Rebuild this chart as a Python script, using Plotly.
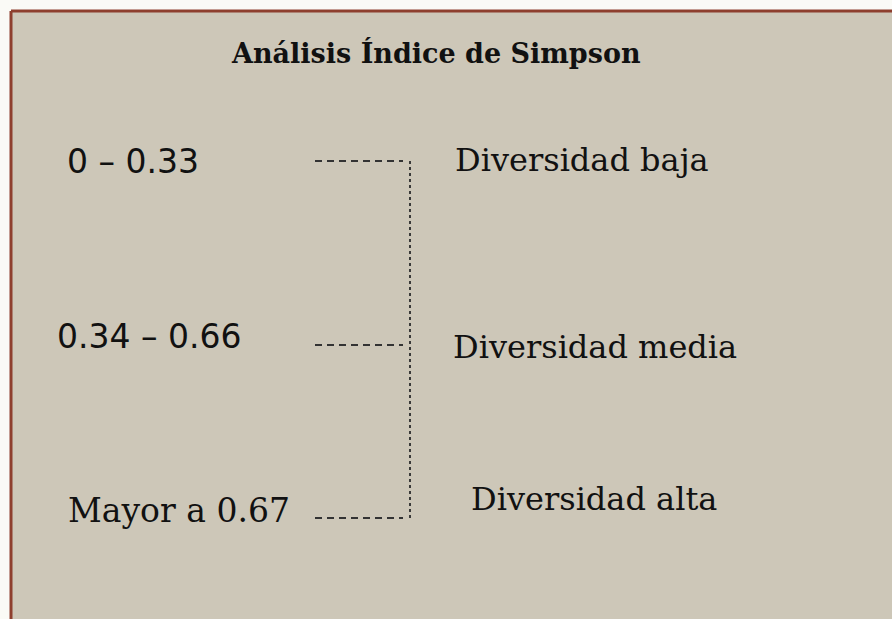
import plotly.graph_objects as go

title_text = "Análisis Índice de Simpson"
ranges = ["0 – 0.33", "0.34 – 0.66", "Mayor a 0.67"]
levels = ["Diversidad baja", "Diversidad media", "Diversidad alta"]

W, H = 892, 619
BG = "#cdc7b8"
OUT = "#fafaf6"
BORDER = "#8e3f2e"
LINE = "#333333"
SERIF = "DejaVu Serif, serif"
SANS = "DejaVu Sans, sans-serif"

# layout positions (pixel coordinates, y from top)
range_x = [67, 57, 68]
range_y = [165, 340, 514]
range_font = [SANS, SANS, SERIF]
range_size = [33, 33, 33]
level_x = [455, 453, 471]
level_y = [163, 350, 502]
conn_y = [161, 345, 518]
dash_x0, dash_x1, vert_x = 315, 403, 410

fig = go.Figure()

# horizontal dashed connectors
for yy in conn_y:
    fig.add_trace(go.Scatter(x=[dash_x0, dash_x1], y=[yy, yy], mode="lines",
                             line=dict(color=LINE, width=1.9, dash="7px,5px"),
                             hoverinfo="skip", showlegend=False))
# vertical dotted connector
fig.add_trace(go.Scatter(x=[vert_x, vert_x], y=[conn_y[0], conn_y[-1]], mode="lines",
                         line=dict(color=LINE, width=1.9, dash="3px,3px"),
                         hoverinfo="skip", showlegend=False))

for i, t in enumerate(ranges):
    fig.add_trace(go.Scatter(x=[range_x[i]], y=[range_y[i]], mode="text", text=[t],
                             textposition="middle right",
                             textfont=dict(family=range_font[i], size=range_size[i],
                                           color="#111111"),
                             hoverinfo="skip", showlegend=False))
for i, t in enumerate(levels):
    fig.add_trace(go.Scatter(x=[level_x[i]], y=[level_y[i]], mode="text", text=[t],
                             textposition="middle right",
                             textfont=dict(family=SERIF, size=32, color="#111111"),
                             hoverinfo="skip", showlegend=False))

fig.add_annotation(x=436, y=53, xref="x", yref="y", text="<b>" + title_text + "</b>",
                   showarrow=False, font=dict(family=SERIF, size=27, color="#111111"),
                   xanchor="center", yanchor="middle")

# background panel and border
fig.add_shape(type="rect", x0=11, x1=W + 5, y0=11, y1=H + 5, xref="x", yref="y",
              fillcolor=BG, line=dict(width=0), layer="below")
fig.add_shape(type="line", x0=11, x1=W + 5, y0=11, y1=11, xref="x", yref="y",
              line=dict(color=BORDER, width=3), layer="below")
fig.add_shape(type="line", x0=11, x1=11, y0=11, y1=H + 5, xref="x", yref="y",
              line=dict(color=BORDER, width=3), layer="below")

fig.update_layout(
    width=W, height=H,
    margin=dict(l=0, r=0, t=0, b=0),
    paper_bgcolor=OUT, plot_bgcolor=OUT,
    xaxis=dict(range=[0, W], visible=False, fixedrange=True),
    yaxis=dict(range=[H, 0], visible=False, fixedrange=True),
)

fig.write_html("out.html", config={"displayModeBar": False},
               post_script="document.body.style.margin='0';document.body.style.overflow='hidden';")
